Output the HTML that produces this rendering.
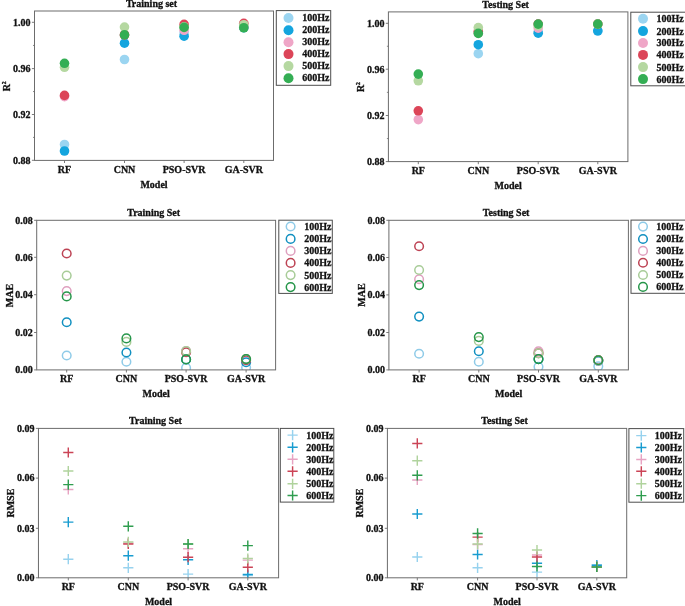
<!DOCTYPE html>
<html><head><meta charset="utf-8"><title>Model comparison</title>
<style>
html,body{margin:0;padding:0;background:#fff;}
body{width:685px;height:606px;overflow:hidden;}
svg{display:block;will-change:transform;opacity:0.999;}
svg text{font-family:"Liberation Serif",serif;font-weight:bold;font-size:10px;fill:#111;stroke:#111;stroke-width:0.3px;}
</style></head><body>
<svg width="685" height="606" viewBox="0 0 685 606">
<rect width="685" height="606" fill="#fff"/>
<clipPath id="c1"><rect x="34.5" y="11.0" width="239.00" height="149.40"/></clipPath>
<g clip-path="url(#c1)">
<circle cx="64.50" cy="144.50" r="4.8" fill="#9bd5f1"/>
<circle cx="124.50" cy="59.50" r="4.8" fill="#9bd5f1"/>
<circle cx="184.10" cy="33.00" r="4.8" fill="#9bd5f1"/>
<circle cx="243.80" cy="27.60" r="4.8" fill="#9bd5f1"/>
<circle cx="64.50" cy="151.00" r="4.8" fill="#14a5de"/>
<circle cx="124.50" cy="43.20" r="4.8" fill="#14a5de"/>
<circle cx="184.10" cy="36.20" r="4.8" fill="#14a5de"/>
<circle cx="243.80" cy="27.60" r="4.8" fill="#14a5de"/>
<circle cx="64.50" cy="96.60" r="4.8" fill="#efa6c7"/>
<circle cx="124.50" cy="34.90" r="4.8" fill="#efa6c7"/>
<circle cx="184.10" cy="30.30" r="4.8" fill="#efa6c7"/>
<circle cx="243.80" cy="27.00" r="4.8" fill="#efa6c7"/>
<circle cx="64.50" cy="95.40" r="4.8" fill="#dc4558"/>
<circle cx="124.50" cy="34.90" r="4.8" fill="#dc4558"/>
<circle cx="184.10" cy="24.40" r="4.8" fill="#dc4558"/>
<circle cx="243.80" cy="23.30" r="4.8" fill="#dc4558"/>
<circle cx="64.50" cy="67.30" r="4.8" fill="#b5d8a1"/>
<circle cx="124.50" cy="27.10" r="4.8" fill="#b5d8a1"/>
<circle cx="184.10" cy="26.90" r="4.8" fill="#b5d8a1"/>
<circle cx="243.80" cy="24.70" r="4.8" fill="#b5d8a1"/>
<circle cx="64.50" cy="63.30" r="4.8" fill="#34ae54"/>
<circle cx="124.50" cy="34.90" r="4.8" fill="#34ae54"/>
<circle cx="184.10" cy="27.40" r="4.8" fill="#34ae54"/>
<circle cx="243.80" cy="27.75" r="4.8" fill="#34ae54"/>
</g>
<rect x="34.5" y="11.0" width="239.00" height="149.40" fill="none" stroke="#6c6c6c" stroke-width="1"/>
<path d="M31.90 22.3H34.5" stroke="#6c6c6c" stroke-width="0.9"/>
<text x="30.50" y="25.60" text-anchor="end">1.00</text>
<path d="M31.90 68.6H34.5" stroke="#6c6c6c" stroke-width="0.9"/>
<text x="30.50" y="71.90" text-anchor="end">0.96</text>
<path d="M31.90 114.5H34.5" stroke="#6c6c6c" stroke-width="0.9"/>
<text x="30.50" y="117.80" text-anchor="end">0.92</text>
<path d="M31.90 160.3H34.5" stroke="#6c6c6c" stroke-width="0.9"/>
<text x="30.50" y="163.60" text-anchor="end">0.88</text>
<path d="M33.00 45.45H34.5" stroke="#6c6c6c" stroke-width="0.8"/>
<path d="M33.00 91.55H34.5" stroke="#6c6c6c" stroke-width="0.8"/>
<path d="M33.00 137.40H34.5" stroke="#6c6c6c" stroke-width="0.8"/>
<path d="M64.5 160.4V163.00" stroke="#6c6c6c" stroke-width="0.9"/>
<text x="64.5" y="172.6" text-anchor="middle">RF</text>
<path d="M124.5 160.4V163.00" stroke="#6c6c6c" stroke-width="0.9"/>
<text x="124.5" y="172.6" text-anchor="middle">CNN</text>
<path d="M184.1 160.4V163.00" stroke="#6c6c6c" stroke-width="0.9"/>
<text x="184.1" y="172.6" text-anchor="middle">PSO-SVR</text>
<path d="M243.8 160.4V163.00" stroke="#6c6c6c" stroke-width="0.9"/>
<text x="243.8" y="172.6" text-anchor="middle">GA-SVR</text>
<text x="154.00" y="188.3" text-anchor="middle">Model</text>
<text x="151.50" y="6.8" text-anchor="middle">Training set</text>
<text transform="translate(10.0,86.30) rotate(-90)" text-anchor="middle">R<tspan font-size="5.8" dy="-4.2">2</tspan></text>
<rect x="276.3" y="10.6" width="54.40" height="74.70" fill="#fff" stroke="#4d4d4d" stroke-width="1"/>
<circle cx="288.50" cy="18.00" r="5.0" fill="#9bd5f1"/>
<text x="302.2" y="21.10">100Hz</text>
<circle cx="288.50" cy="30.30" r="5.0" fill="#14a5de"/>
<text x="302.2" y="33.40">200Hz</text>
<circle cx="288.50" cy="42.20" r="5.0" fill="#efa6c7"/>
<text x="302.2" y="45.30">300Hz</text>
<circle cx="288.50" cy="54.10" r="5.0" fill="#dc4558"/>
<text x="302.2" y="57.20">400Hz</text>
<circle cx="288.50" cy="66.10" r="5.0" fill="#b5d8a1"/>
<text x="302.2" y="69.20">500Hz</text>
<circle cx="288.50" cy="78.30" r="5.0" fill="#34ae54"/>
<text x="302.2" y="81.40">600Hz</text>
<clipPath id="c2"><rect x="388.4" y="11.9" width="239.50" height="149.70"/></clipPath>
<g clip-path="url(#c2)">
<circle cx="478.30" cy="53.70" r="4.8" fill="#9bd5f1"/>
<circle cx="538.20" cy="32.00" r="4.8" fill="#9bd5f1"/>
<circle cx="597.80" cy="31.20" r="4.8" fill="#9bd5f1"/>
<circle cx="478.30" cy="44.70" r="4.8" fill="#14a5de"/>
<circle cx="538.20" cy="33.20" r="4.8" fill="#14a5de"/>
<circle cx="597.80" cy="30.80" r="4.8" fill="#14a5de"/>
<circle cx="418.30" cy="119.60" r="4.8" fill="#efa6c7"/>
<circle cx="478.30" cy="33.00" r="4.8" fill="#efa6c7"/>
<circle cx="538.20" cy="28.10" r="4.8" fill="#efa6c7"/>
<circle cx="597.80" cy="24.10" r="4.8" fill="#efa6c7"/>
<circle cx="418.30" cy="110.80" r="4.8" fill="#dc4558"/>
<circle cx="478.30" cy="31.50" r="4.8" fill="#dc4558"/>
<circle cx="538.20" cy="24.10" r="4.8" fill="#dc4558"/>
<circle cx="597.80" cy="24.10" r="4.8" fill="#dc4558"/>
<circle cx="418.30" cy="80.80" r="4.8" fill="#b5d8a1"/>
<circle cx="478.30" cy="27.60" r="4.8" fill="#b5d8a1"/>
<circle cx="538.20" cy="25.70" r="4.8" fill="#b5d8a1"/>
<circle cx="597.80" cy="24.10" r="4.8" fill="#b5d8a1"/>
<circle cx="418.30" cy="74.10" r="4.8" fill="#34ae54"/>
<circle cx="478.30" cy="33.40" r="4.8" fill="#34ae54"/>
<circle cx="538.20" cy="24.10" r="4.8" fill="#34ae54"/>
<circle cx="597.80" cy="24.10" r="4.8" fill="#34ae54"/>
</g>
<rect x="388.4" y="11.9" width="239.50" height="149.70" fill="none" stroke="#6c6c6c" stroke-width="1"/>
<path d="M385.80 23.3H388.4" stroke="#6c6c6c" stroke-width="0.9"/>
<text x="384.40" y="26.60" text-anchor="end">1.00</text>
<path d="M385.80 69.2H388.4" stroke="#6c6c6c" stroke-width="0.9"/>
<text x="384.40" y="72.50" text-anchor="end">0.96</text>
<path d="M385.80 115.5H388.4" stroke="#6c6c6c" stroke-width="0.9"/>
<text x="384.40" y="118.80" text-anchor="end">0.92</text>
<path d="M385.80 161.6H388.4" stroke="#6c6c6c" stroke-width="0.9"/>
<text x="384.40" y="164.90" text-anchor="end">0.88</text>
<path d="M386.90 46.25H388.4" stroke="#6c6c6c" stroke-width="0.8"/>
<path d="M386.90 92.35H388.4" stroke="#6c6c6c" stroke-width="0.8"/>
<path d="M386.90 138.55H388.4" stroke="#6c6c6c" stroke-width="0.8"/>
<path d="M418.3 161.6V164.20" stroke="#6c6c6c" stroke-width="0.9"/>
<text x="418.3" y="173.6" text-anchor="middle">RF</text>
<path d="M478.3 161.6V164.20" stroke="#6c6c6c" stroke-width="0.9"/>
<text x="478.3" y="173.6" text-anchor="middle">CNN</text>
<path d="M538.2 161.6V164.20" stroke="#6c6c6c" stroke-width="0.9"/>
<text x="538.2" y="173.6" text-anchor="middle">PSO-SVR</text>
<path d="M597.8 161.6V164.20" stroke="#6c6c6c" stroke-width="0.9"/>
<text x="597.8" y="173.6" text-anchor="middle">GA-SVR</text>
<text x="508.15" y="189.4" text-anchor="middle">Model</text>
<text x="505.65" y="8.0" text-anchor="middle">Testing Set</text>
<text transform="translate(364.0,87.05) rotate(-90)" text-anchor="middle">R<tspan font-size="5.8" dy="-4.2">2</tspan></text>
<rect x="630.8" y="12.2" width="59.20" height="73.60" fill="#fff" stroke="#4d4d4d" stroke-width="1"/>
<circle cx="643.00" cy="18.80" r="5.0" fill="#9bd5f1"/>
<text x="656.4" y="22.20">100Hz</text>
<circle cx="643.00" cy="31.10" r="5.0" fill="#14a5de"/>
<text x="656.4" y="34.50">200Hz</text>
<circle cx="643.00" cy="43.00" r="5.0" fill="#efa6c7"/>
<text x="656.4" y="46.40">300Hz</text>
<circle cx="643.00" cy="54.90" r="5.0" fill="#dc4558"/>
<text x="656.4" y="58.30">400Hz</text>
<circle cx="643.00" cy="67.10" r="5.0" fill="#b5d8a1"/>
<text x="656.4" y="70.50">500Hz</text>
<circle cx="643.00" cy="79.10" r="5.0" fill="#34ae54"/>
<text x="656.4" y="82.50">600Hz</text>
<clipPath id="c3"><rect x="36.7" y="220.3" width="238.90" height="149.60"/></clipPath>
<g clip-path="url(#c3)">
<circle cx="66.70" cy="355.50" r="4.3" fill="none" stroke="#8fcbe8" stroke-width="1.5"/>
<circle cx="126.40" cy="361.70" r="4.3" fill="none" stroke="#8fcbe8" stroke-width="1.5"/>
<circle cx="186.10" cy="367.90" r="4.3" fill="none" stroke="#8fcbe8" stroke-width="1.5"/>
<circle cx="246.10" cy="367.50" r="4.3" fill="none" stroke="#8fcbe8" stroke-width="1.5"/>
<circle cx="66.70" cy="322.30" r="4.3" fill="none" stroke="#1190c0" stroke-width="1.5"/>
<circle cx="126.40" cy="352.50" r="4.3" fill="none" stroke="#1190c0" stroke-width="1.5"/>
<circle cx="186.10" cy="359.40" r="4.3" fill="none" stroke="#1190c0" stroke-width="1.5"/>
<circle cx="246.10" cy="362.20" r="4.3" fill="none" stroke="#1190c0" stroke-width="1.5"/>
<circle cx="66.70" cy="291.10" r="4.3" fill="none" stroke="#dfa0bf" stroke-width="1.5"/>
<circle cx="186.10" cy="351.10" r="4.3" fill="none" stroke="#dfa0bf" stroke-width="1.5"/>
<circle cx="246.10" cy="359.10" r="4.3" fill="none" stroke="#dfa0bf" stroke-width="1.5"/>
<circle cx="66.70" cy="253.50" r="4.3" fill="none" stroke="#bd4354" stroke-width="1.5"/>
<circle cx="186.10" cy="352.20" r="4.3" fill="none" stroke="#bd4354" stroke-width="1.5"/>
<circle cx="246.10" cy="360.20" r="4.3" fill="none" stroke="#bd4354" stroke-width="1.5"/>
<circle cx="66.70" cy="275.60" r="4.3" fill="none" stroke="#a8cc98" stroke-width="1.5"/>
<circle cx="126.40" cy="341.90" r="4.3" fill="none" stroke="#a8cc98" stroke-width="1.5"/>
<circle cx="186.10" cy="351.10" r="4.3" fill="none" stroke="#a8cc98" stroke-width="1.5"/>
<circle cx="246.10" cy="359.10" r="4.3" fill="none" stroke="#a8cc98" stroke-width="1.5"/>
<circle cx="66.70" cy="296.40" r="4.3" fill="none" stroke="#26964a" stroke-width="1.5"/>
<circle cx="126.40" cy="338.40" r="4.3" fill="none" stroke="#26964a" stroke-width="1.5"/>
<circle cx="186.10" cy="359.40" r="4.3" fill="none" stroke="#26964a" stroke-width="1.5"/>
<circle cx="246.10" cy="359.10" r="4.3" fill="none" stroke="#26964a" stroke-width="1.5"/>
</g>
<rect x="36.7" y="220.3" width="238.90" height="149.60" fill="none" stroke="#6c6c6c" stroke-width="1"/>
<path d="M34.10 220.3H36.7" stroke="#6c6c6c" stroke-width="0.9"/>
<text x="32.70" y="223.60" text-anchor="end">0.08</text>
<path d="M34.10 257.3H36.7" stroke="#6c6c6c" stroke-width="0.9"/>
<text x="32.70" y="260.60" text-anchor="end">0.06</text>
<path d="M34.10 294.7H36.7" stroke="#6c6c6c" stroke-width="0.9"/>
<text x="32.70" y="298.00" text-anchor="end">0.04</text>
<path d="M34.10 332.5H36.7" stroke="#6c6c6c" stroke-width="0.9"/>
<text x="32.70" y="335.80" text-anchor="end">0.02</text>
<path d="M34.10 369.9H36.7" stroke="#6c6c6c" stroke-width="0.9"/>
<text x="32.70" y="373.20" text-anchor="end">0.00</text>
<path d="M66.7 369.9V372.50" stroke="#6c6c6c" stroke-width="0.9"/>
<text x="66.7" y="381.6" text-anchor="middle">RF</text>
<path d="M126.4 369.9V372.50" stroke="#6c6c6c" stroke-width="0.9"/>
<text x="126.4" y="381.6" text-anchor="middle">CNN</text>
<path d="M186.1 369.9V372.50" stroke="#6c6c6c" stroke-width="0.9"/>
<text x="186.1" y="381.6" text-anchor="middle">PSO-SVR</text>
<path d="M246.1 369.9V372.50" stroke="#6c6c6c" stroke-width="0.9"/>
<text x="246.1" y="381.6" text-anchor="middle">GA-SVR</text>
<text x="156.15" y="397.0" text-anchor="middle">Model</text>
<text x="153.65" y="215.8" text-anchor="middle">Training Set</text>
<text transform="translate(13.0,295.60) rotate(-90)" text-anchor="middle">MAE</text>
<rect x="278.8" y="220.2" width="53.50" height="73.20" fill="#fff" stroke="#4d4d4d" stroke-width="1"/>
<circle cx="290.60" cy="226.50" r="4.3" fill="none" stroke="#8fcbe8" stroke-width="1.5"/>
<text x="304.3" y="229.90">100Hz</text>
<circle cx="290.60" cy="238.90" r="4.3" fill="none" stroke="#1190c0" stroke-width="1.5"/>
<text x="304.3" y="242.30">200Hz</text>
<circle cx="290.60" cy="250.90" r="4.3" fill="none" stroke="#dfa0bf" stroke-width="1.5"/>
<text x="304.3" y="254.30">300Hz</text>
<circle cx="290.60" cy="262.90" r="4.3" fill="none" stroke="#bd4354" stroke-width="1.5"/>
<text x="304.3" y="266.30">400Hz</text>
<circle cx="290.60" cy="275.10" r="4.3" fill="none" stroke="#a8cc98" stroke-width="1.5"/>
<text x="304.3" y="278.50">500Hz</text>
<circle cx="290.60" cy="287.10" r="4.3" fill="none" stroke="#26964a" stroke-width="1.5"/>
<text x="304.3" y="290.50">600Hz</text>
<clipPath id="c4"><rect x="388.9" y="220.3" width="239.50" height="149.60"/></clipPath>
<g clip-path="url(#c4)">
<circle cx="419.10" cy="353.70" r="4.3" fill="none" stroke="#8fcbe8" stroke-width="1.5"/>
<circle cx="478.80" cy="361.70" r="4.3" fill="none" stroke="#8fcbe8" stroke-width="1.5"/>
<circle cx="538.50" cy="366.80" r="4.3" fill="none" stroke="#8fcbe8" stroke-width="1.5"/>
<circle cx="598.30" cy="366.30" r="4.3" fill="none" stroke="#8fcbe8" stroke-width="1.5"/>
<circle cx="419.10" cy="316.60" r="4.3" fill="none" stroke="#1190c0" stroke-width="1.5"/>
<circle cx="478.80" cy="351.20" r="4.3" fill="none" stroke="#1190c0" stroke-width="1.5"/>
<circle cx="538.50" cy="359.10" r="4.3" fill="none" stroke="#1190c0" stroke-width="1.5"/>
<circle cx="598.30" cy="361.00" r="4.3" fill="none" stroke="#1190c0" stroke-width="1.5"/>
<circle cx="419.10" cy="279.30" r="4.3" fill="none" stroke="#dfa0bf" stroke-width="1.5"/>
<circle cx="538.50" cy="351.30" r="4.3" fill="none" stroke="#dfa0bf" stroke-width="1.5"/>
<circle cx="598.30" cy="360.60" r="4.3" fill="none" stroke="#dfa0bf" stroke-width="1.5"/>
<circle cx="419.10" cy="246.20" r="4.3" fill="none" stroke="#bd4354" stroke-width="1.5"/>
<circle cx="538.50" cy="353.20" r="4.3" fill="none" stroke="#bd4354" stroke-width="1.5"/>
<circle cx="598.30" cy="360.00" r="4.3" fill="none" stroke="#bd4354" stroke-width="1.5"/>
<circle cx="419.10" cy="270.00" r="4.3" fill="none" stroke="#a8cc98" stroke-width="1.5"/>
<circle cx="478.80" cy="340.90" r="4.3" fill="none" stroke="#a8cc98" stroke-width="1.5"/>
<circle cx="538.50" cy="353.40" r="4.3" fill="none" stroke="#a8cc98" stroke-width="1.5"/>
<circle cx="598.30" cy="360.40" r="4.3" fill="none" stroke="#a8cc98" stroke-width="1.5"/>
<circle cx="419.10" cy="285.10" r="4.3" fill="none" stroke="#26964a" stroke-width="1.5"/>
<circle cx="478.80" cy="337.10" r="4.3" fill="none" stroke="#26964a" stroke-width="1.5"/>
<circle cx="538.50" cy="359.10" r="4.3" fill="none" stroke="#26964a" stroke-width="1.5"/>
<circle cx="598.30" cy="360.20" r="4.3" fill="none" stroke="#26964a" stroke-width="1.5"/>
</g>
<rect x="388.9" y="220.3" width="239.50" height="149.60" fill="none" stroke="#6c6c6c" stroke-width="1"/>
<path d="M386.30 220.3H388.9" stroke="#6c6c6c" stroke-width="0.9"/>
<text x="384.90" y="223.60" text-anchor="end">0.08</text>
<path d="M386.30 257.5H388.9" stroke="#6c6c6c" stroke-width="0.9"/>
<text x="384.90" y="260.80" text-anchor="end">0.06</text>
<path d="M386.30 294.9H388.9" stroke="#6c6c6c" stroke-width="0.9"/>
<text x="384.90" y="298.20" text-anchor="end">0.04</text>
<path d="M386.30 332.5H388.9" stroke="#6c6c6c" stroke-width="0.9"/>
<text x="384.90" y="335.80" text-anchor="end">0.02</text>
<path d="M386.30 369.9H388.9" stroke="#6c6c6c" stroke-width="0.9"/>
<text x="384.90" y="373.20" text-anchor="end">0.00</text>
<path d="M419.1 369.9V372.50" stroke="#6c6c6c" stroke-width="0.9"/>
<text x="419.1" y="381.6" text-anchor="middle">RF</text>
<path d="M478.8 369.9V372.50" stroke="#6c6c6c" stroke-width="0.9"/>
<text x="478.8" y="381.6" text-anchor="middle">CNN</text>
<path d="M538.5 369.9V372.50" stroke="#6c6c6c" stroke-width="0.9"/>
<text x="538.5" y="381.6" text-anchor="middle">PSO-SVR</text>
<path d="M598.3 369.9V372.50" stroke="#6c6c6c" stroke-width="0.9"/>
<text x="598.3" y="381.6" text-anchor="middle">GA-SVR</text>
<text x="508.65" y="397.0" text-anchor="middle">Model</text>
<text x="506.15" y="215.8" text-anchor="middle">Testing Set</text>
<text transform="translate(365.3,295.10) rotate(-90)" text-anchor="middle">MAE</text>
<rect x="631.0" y="220.1" width="59.00" height="73.20" fill="#fff" stroke="#4d4d4d" stroke-width="1"/>
<circle cx="643.00" cy="226.60" r="4.3" fill="none" stroke="#8fcbe8" stroke-width="1.5"/>
<text x="656.3" y="230.00">100Hz</text>
<circle cx="643.00" cy="239.00" r="4.3" fill="none" stroke="#1190c0" stroke-width="1.5"/>
<text x="656.3" y="242.40">200Hz</text>
<circle cx="643.00" cy="250.90" r="4.3" fill="none" stroke="#dfa0bf" stroke-width="1.5"/>
<text x="656.3" y="254.30">300Hz</text>
<circle cx="643.00" cy="262.80" r="4.3" fill="none" stroke="#bd4354" stroke-width="1.5"/>
<text x="656.3" y="266.20">400Hz</text>
<circle cx="643.00" cy="275.00" r="4.3" fill="none" stroke="#a8cc98" stroke-width="1.5"/>
<text x="656.3" y="278.40">500Hz</text>
<circle cx="643.00" cy="286.90" r="4.3" fill="none" stroke="#26964a" stroke-width="1.5"/>
<text x="656.3" y="290.30">600Hz</text>
<clipPath id="c5"><rect x="38.45" y="428.4" width="240.15" height="149.40"/></clipPath>
<g clip-path="url(#c5)">
<path d="M63.20 559.20H73.40M68.30 554.10V564.30" stroke="#97d2ee" stroke-width="1.45" fill="none"/>
<path d="M123.20 567.80H133.40M128.30 562.70V572.90" stroke="#97d2ee" stroke-width="1.45" fill="none"/>
<path d="M183.00 574.10H193.20M188.10 569.00V579.20" stroke="#97d2ee" stroke-width="1.45" fill="none"/>
<path d="M242.70 575.50H252.90M247.80 570.40V580.60" stroke="#97d2ee" stroke-width="1.45" fill="none"/>
<path d="M63.20 522.10H73.40M68.30 517.00V527.20" stroke="#189cd0" stroke-width="1.45" fill="none"/>
<path d="M123.20 555.70H133.40M128.30 550.60V560.80" stroke="#189cd0" stroke-width="1.45" fill="none"/>
<path d="M183.00 559.80H193.20M188.10 554.70V564.90" stroke="#189cd0" stroke-width="1.45" fill="none"/>
<path d="M242.70 574.50H252.90M247.80 569.40V579.60" stroke="#189cd0" stroke-width="1.45" fill="none"/>
<path d="M63.20 489.40H73.40M68.30 484.30V494.50" stroke="#e7a3c2" stroke-width="1.45" fill="none"/>
<path d="M123.20 543.20H133.40M128.30 538.10V548.30" stroke="#e7a3c2" stroke-width="1.45" fill="none"/>
<path d="M183.00 548.80H193.20M188.10 543.70V553.90" stroke="#e7a3c2" stroke-width="1.45" fill="none"/>
<path d="M242.70 560.10H252.90M247.80 555.00V565.20" stroke="#e7a3c2" stroke-width="1.45" fill="none"/>
<path d="M63.20 452.50H73.40M68.30 447.40V457.60" stroke="#cb4456" stroke-width="1.45" fill="none"/>
<path d="M123.20 543.90H133.40M128.30 538.80V549.00" stroke="#cb4456" stroke-width="1.45" fill="none"/>
<path d="M183.00 557.20H193.20M188.10 552.10V562.30" stroke="#cb4456" stroke-width="1.45" fill="none"/>
<path d="M242.70 567.30H252.90M247.80 562.20V572.40" stroke="#cb4456" stroke-width="1.45" fill="none"/>
<path d="M63.20 471.00H73.40M68.30 465.90V476.10" stroke="#b0d39d" stroke-width="1.45" fill="none"/>
<path d="M123.20 541.90H133.40M128.30 536.80V547.00" stroke="#b0d39d" stroke-width="1.45" fill="none"/>
<path d="M183.00 544.00H193.20M188.10 538.90V549.10" stroke="#b0d39d" stroke-width="1.45" fill="none"/>
<path d="M242.70 558.50H252.90M247.80 553.40V563.60" stroke="#b0d39d" stroke-width="1.45" fill="none"/>
<path d="M63.20 484.60H73.40M68.30 479.50V489.70" stroke="#2f9d4f" stroke-width="1.45" fill="none"/>
<path d="M123.20 526.30H133.40M128.30 521.20V531.40" stroke="#2f9d4f" stroke-width="1.45" fill="none"/>
<path d="M183.00 544.00H193.20M188.10 538.90V549.10" stroke="#2f9d4f" stroke-width="1.45" fill="none"/>
<path d="M242.70 545.60H252.90M247.80 540.50V550.70" stroke="#2f9d4f" stroke-width="1.45" fill="none"/>
</g>
<rect x="38.45" y="428.4" width="240.15" height="149.40" fill="none" stroke="#6c6c6c" stroke-width="1"/>
<path d="M35.85 428.4H38.45" stroke="#6c6c6c" stroke-width="0.9"/>
<text x="34.45" y="431.70" text-anchor="end">0.09</text>
<path d="M35.85 478.1H38.45" stroke="#6c6c6c" stroke-width="0.9"/>
<text x="34.45" y="481.40" text-anchor="end">0.06</text>
<path d="M35.85 528.3H38.45" stroke="#6c6c6c" stroke-width="0.9"/>
<text x="34.45" y="531.60" text-anchor="end">0.03</text>
<path d="M35.85 577.8H38.45" stroke="#6c6c6c" stroke-width="0.9"/>
<text x="34.45" y="581.10" text-anchor="end">0.00</text>
<path d="M68.3 577.8V580.40" stroke="#6c6c6c" stroke-width="0.9"/>
<text x="68.3" y="590.0" text-anchor="middle">RF</text>
<path d="M128.3 577.8V580.40" stroke="#6c6c6c" stroke-width="0.9"/>
<text x="128.3" y="590.0" text-anchor="middle">CNN</text>
<path d="M188.1 577.8V580.40" stroke="#6c6c6c" stroke-width="0.9"/>
<text x="188.1" y="590.0" text-anchor="middle">PSO-SVR</text>
<path d="M247.8 577.8V580.40" stroke="#6c6c6c" stroke-width="0.9"/>
<text x="247.8" y="590.0" text-anchor="middle">GA-SVR</text>
<text x="158.53" y="605.4" text-anchor="middle">Model</text>
<text x="155.53" y="424.0" text-anchor="middle">Training Set</text>
<text transform="translate(13.8,503.10) rotate(-90)" text-anchor="middle">RMSE</text>
<rect x="280.3" y="428.4" width="53.50" height="73.70" fill="#fff" stroke="#4d4d4d" stroke-width="1"/>
<path d="M287.50 435.10H297.70M292.60 430.00V440.20" stroke="#97d2ee" stroke-width="1.45" fill="none"/>
<text x="306.3" y="438.50">100Hz</text>
<path d="M287.50 447.30H297.70M292.60 442.20V452.40" stroke="#189cd0" stroke-width="1.45" fill="none"/>
<text x="306.3" y="450.70">200Hz</text>
<path d="M287.50 459.30H297.70M292.60 454.20V464.40" stroke="#e7a3c2" stroke-width="1.45" fill="none"/>
<text x="306.3" y="462.70">300Hz</text>
<path d="M287.50 471.30H297.70M292.60 466.20V476.40" stroke="#cb4456" stroke-width="1.45" fill="none"/>
<text x="306.3" y="474.70">400Hz</text>
<path d="M287.50 483.80H297.70M292.60 478.70V488.90" stroke="#b0d39d" stroke-width="1.45" fill="none"/>
<text x="306.3" y="487.20">500Hz</text>
<path d="M287.50 495.50H297.70M292.60 490.40V500.60" stroke="#2f9d4f" stroke-width="1.45" fill="none"/>
<text x="306.3" y="498.90">600Hz</text>
<clipPath id="c6"><rect x="387.4" y="428.4" width="239.30" height="149.40"/></clipPath>
<g clip-path="url(#c6)">
<path d="M412.20 557.00H422.40M417.30 551.90V562.10" stroke="#97d2ee" stroke-width="1.45" fill="none"/>
<path d="M472.50 567.80H482.70M477.60 562.70V572.90" stroke="#97d2ee" stroke-width="1.45" fill="none"/>
<path d="M531.90 572.10H542.10M537.00 567.00V577.20" stroke="#97d2ee" stroke-width="1.45" fill="none"/>
<path d="M591.70 565.00H601.90M596.80 559.90V570.10" stroke="#97d2ee" stroke-width="1.45" fill="none"/>
<path d="M412.20 514.00H422.40M417.30 508.90V519.10" stroke="#189cd0" stroke-width="1.45" fill="none"/>
<path d="M472.50 554.50H482.70M477.60 549.40V559.60" stroke="#189cd0" stroke-width="1.45" fill="none"/>
<path d="M531.90 563.30H542.10M537.00 558.20V568.40" stroke="#189cd0" stroke-width="1.45" fill="none"/>
<path d="M591.70 565.30H601.90M596.80 560.20V570.40" stroke="#189cd0" stroke-width="1.45" fill="none"/>
<path d="M412.20 479.90H422.40M417.30 474.80V485.00" stroke="#e7a3c2" stroke-width="1.45" fill="none"/>
<path d="M472.50 544.40H482.70M477.60 539.30V549.50" stroke="#e7a3c2" stroke-width="1.45" fill="none"/>
<path d="M531.90 555.00H542.10M537.00 549.90V560.10" stroke="#e7a3c2" stroke-width="1.45" fill="none"/>
<path d="M591.70 566.90H601.90M596.80 561.80V572.00" stroke="#e7a3c2" stroke-width="1.45" fill="none"/>
<path d="M412.20 443.40H422.40M417.30 438.30V448.50" stroke="#cb4456" stroke-width="1.45" fill="none"/>
<path d="M472.50 537.10H482.70M477.60 532.00V542.20" stroke="#cb4456" stroke-width="1.45" fill="none"/>
<path d="M531.90 556.90H542.10M537.00 551.80V562.00" stroke="#cb4456" stroke-width="1.45" fill="none"/>
<path d="M591.70 566.90H601.90M596.80 561.80V572.00" stroke="#cb4456" stroke-width="1.45" fill="none"/>
<path d="M412.20 460.70H422.40M417.30 455.60V465.80" stroke="#b0d39d" stroke-width="1.45" fill="none"/>
<path d="M472.50 543.90H482.70M477.60 538.80V549.00" stroke="#b0d39d" stroke-width="1.45" fill="none"/>
<path d="M531.90 550.00H542.10M537.00 544.90V555.10" stroke="#b0d39d" stroke-width="1.45" fill="none"/>
<path d="M591.70 566.90H601.90M596.80 561.80V572.00" stroke="#b0d39d" stroke-width="1.45" fill="none"/>
<path d="M412.20 475.30H422.40M417.30 470.20V480.40" stroke="#2f9d4f" stroke-width="1.45" fill="none"/>
<path d="M472.50 533.40H482.70M477.60 528.30V538.50" stroke="#2f9d4f" stroke-width="1.45" fill="none"/>
<path d="M531.90 566.50H542.10M537.00 561.40V571.60" stroke="#2f9d4f" stroke-width="1.45" fill="none"/>
<path d="M591.70 566.90H601.90M596.80 561.80V572.00" stroke="#2f9d4f" stroke-width="1.45" fill="none"/>
</g>
<rect x="387.4" y="428.4" width="239.30" height="149.40" fill="none" stroke="#6c6c6c" stroke-width="1"/>
<path d="M384.80 428.4H387.4" stroke="#6c6c6c" stroke-width="0.9"/>
<text x="383.40" y="431.70" text-anchor="end">0.09</text>
<path d="M384.80 478.1H387.4" stroke="#6c6c6c" stroke-width="0.9"/>
<text x="383.40" y="481.40" text-anchor="end">0.06</text>
<path d="M384.80 528.3H387.4" stroke="#6c6c6c" stroke-width="0.9"/>
<text x="383.40" y="531.60" text-anchor="end">0.03</text>
<path d="M384.80 577.8H387.4" stroke="#6c6c6c" stroke-width="0.9"/>
<text x="383.40" y="581.10" text-anchor="end">0.00</text>
<path d="M417.3 577.8V580.40" stroke="#6c6c6c" stroke-width="0.9"/>
<text x="417.3" y="590.0" text-anchor="middle">RF</text>
<path d="M477.6 577.8V580.40" stroke="#6c6c6c" stroke-width="0.9"/>
<text x="477.6" y="590.0" text-anchor="middle">CNN</text>
<path d="M537.0 577.8V580.40" stroke="#6c6c6c" stroke-width="0.9"/>
<text x="537.0" y="590.0" text-anchor="middle">PSO-SVR</text>
<path d="M596.8 577.8V580.40" stroke="#6c6c6c" stroke-width="0.9"/>
<text x="596.8" y="590.0" text-anchor="middle">GA-SVR</text>
<text x="507.05" y="605.4" text-anchor="middle">Model</text>
<text x="504.55" y="424.0" text-anchor="middle">Testing Set</text>
<text transform="translate(363.0,503.10) rotate(-90)" text-anchor="middle">RMSE</text>
<rect x="628.9" y="428.6" width="54.80" height="73.60" fill="#fff" stroke="#4d4d4d" stroke-width="1"/>
<path d="M636.20 435.60H646.40M641.30 430.50V440.70" stroke="#97d2ee" stroke-width="1.45" fill="none"/>
<text x="654.7" y="439.00">100Hz</text>
<path d="M636.20 447.50H646.40M641.30 442.40V452.60" stroke="#189cd0" stroke-width="1.45" fill="none"/>
<text x="654.7" y="450.90">200Hz</text>
<path d="M636.20 459.40H646.40M641.30 454.30V464.50" stroke="#e7a3c2" stroke-width="1.45" fill="none"/>
<text x="654.7" y="462.80">300Hz</text>
<path d="M636.20 471.30H646.40M641.30 466.20V476.40" stroke="#cb4456" stroke-width="1.45" fill="none"/>
<text x="654.7" y="474.70">400Hz</text>
<path d="M636.20 483.70H646.40M641.30 478.60V488.80" stroke="#b0d39d" stroke-width="1.45" fill="none"/>
<text x="654.7" y="487.10">500Hz</text>
<path d="M636.20 495.60H646.40M641.30 490.50V500.70" stroke="#2f9d4f" stroke-width="1.45" fill="none"/>
<text x="654.7" y="499.00">600Hz</text>
</svg>
</body></html>
